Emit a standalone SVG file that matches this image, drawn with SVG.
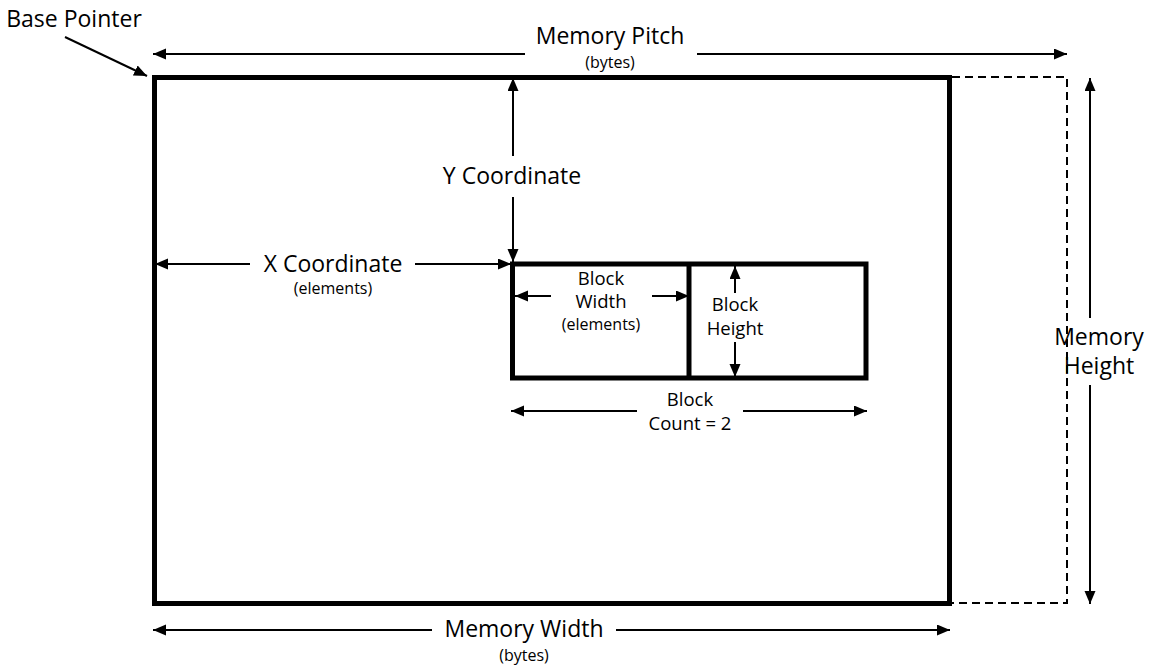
<svg xmlns="http://www.w3.org/2000/svg" width="1152" height="671" viewBox="0 0 1152 671">
<style>
text{font-family:"Open Sans","Liberation Sans",sans-serif;fill:#000;text-anchor:middle}
.lg{font-size:23px}
.md{font-size:18.5px}
.sm{font-size:16px}
.box{fill:none;stroke:#000;stroke-width:5}
.arr{fill:none;stroke:#000;stroke-width:2;marker-end:url(#ah)}
</style>
<defs>
<marker id="ah" markerUnits="userSpaceOnUse" markerWidth="14" markerHeight="12" refX="13" refY="5.5" orient="auto">
<path d="M0,0 L13,5.5 L0,11 z" fill="#000"/>
</marker>
</defs>
<rect width="1152" height="671" fill="#fff"/>
<g id="memory">
<rect class="box" x="154.5" y="77.5" width="795" height="526"/>
</g>
<g id="pitch-extent">
<path d="M952,77 H1067 V603 H952" fill="none" stroke="#000" stroke-width="2" stroke-dasharray="8 5"/>
</g>
<g id="block">
<rect class="box" x="512.5" y="264" width="353.5" height="114"/>
<line x1="689" y1="264" x2="689" y2="378" stroke="#000" stroke-width="5"/>
</g>
<g id="connectors">
<line class="arr" x1="65" y1="37" x2="147" y2="76"/>
<line class="arr" x1="525" y1="54" x2="153" y2="54"/>
<line class="arr" x1="697" y1="54" x2="1067" y2="54"/>
<line class="arr" x1="432" y1="630" x2="153" y2="630"/>
<line class="arr" x1="616" y1="630" x2="950" y2="630"/>
<line class="arr" x1="250" y1="264" x2="155" y2="264"/>
<line class="arr" x1="415" y1="264" x2="511" y2="264"/>
<line class="arr" x1="513" y1="156" x2="513" y2="78"/>
<line class="arr" x1="513" y1="197" x2="513" y2="262"/>
<line class="arr" x1="1090" y1="318" x2="1090" y2="78"/>
<line class="arr" x1="1090" y1="385" x2="1090" y2="604"/>
<line class="arr" x1="551" y1="296" x2="515" y2="296"/>
<line class="arr" x1="652" y1="296" x2="689" y2="296"/>
<line class="arr" x1="735" y1="293" x2="735" y2="266"/>
<line class="arr" x1="735" y1="342" x2="735" y2="377"/>
<line class="arr" x1="637" y1="411" x2="511" y2="411"/>
<line class="arr" x1="743" y1="411" x2="867" y2="411"/>
</g>
<g id="labels">
<text class="lg" x="74" y="27">Base Pointer</text>
<text class="lg" x="610" y="44">Memory Pitch</text>
<text class="sm" x="610" y="68">(bytes)</text>
<text class="lg" x="524" y="637">Memory Width</text>
<text class="sm" x="524" y="661">(bytes)</text>
<text class="lg" x="333" y="272">X Coordinate</text>
<text class="sm" x="333" y="294">(elements)</text>
<text class="lg" x="512" y="184">Y Coordinate</text>
<text class="lg" x="1099" y="345">Memory</text>
<text class="lg" x="1099" y="374">Height</text>
<text class="md" x="601" y="285">Block</text>
<text class="md" x="601" y="308">Width</text>
<text class="sm" x="601" y="330">(elements)</text>
<text class="md" x="735" y="311">Block</text>
<text class="md" x="735" y="335">Height</text>
<text class="md" x="690" y="406">Block</text>
<text class="md" x="690" y="430">Count = 2</text>
</g>
</svg>
